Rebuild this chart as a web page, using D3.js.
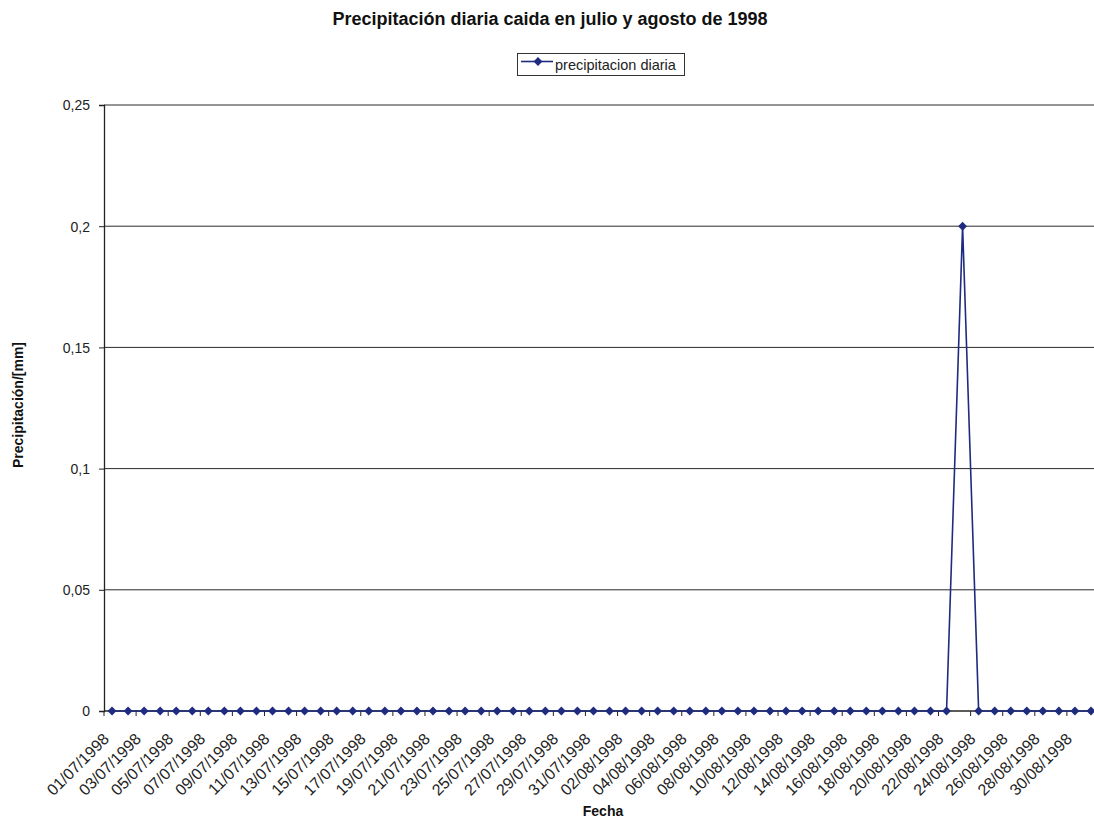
<!DOCTYPE html>
<html><head><meta charset="utf-8">
<script src="https://cdn.jsdelivr.net/npm/d3@7"></script>
<style>
html,body{margin:0;padding:0;background:#fff;}
svg{display:block;font-family:"Liberation Sans",Arial,sans-serif;}
</style></head>
<body><svg id="chart" width="1094" height="820"></svg>
<script>
// ---- data ----
const dates = [
"01/07/1998","02/07/1998","03/07/1998","04/07/1998","05/07/1998","06/07/1998","07/07/1998","08/07/1998","09/07/1998","10/07/1998",
"11/07/1998","12/07/1998","13/07/1998","14/07/1998","15/07/1998","16/07/1998","17/07/1998","18/07/1998","19/07/1998","20/07/1998",
"21/07/1998","22/07/1998","23/07/1998","24/07/1998","25/07/1998","26/07/1998","27/07/1998","28/07/1998","29/07/1998","30/07/1998",
"31/07/1998",
"01/08/1998","02/08/1998","03/08/1998","04/08/1998","05/08/1998","06/08/1998","07/08/1998","08/08/1998","09/08/1998","10/08/1998",
"11/08/1998","12/08/1998","13/08/1998","14/08/1998","15/08/1998","16/08/1998","17/08/1998","18/08/1998","19/08/1998","20/08/1998",
"21/08/1998","22/08/1998","23/08/1998","24/08/1998","25/08/1998","26/08/1998","27/08/1998","28/08/1998","29/08/1998","30/08/1998",
"31/08/1998"];
const precip = [
0,0,0,0,0,0,0,0,0,0,
0,0,0,0,0,0,0,0,0,0,
0,0,0,0,0,0,0,0,0,0,
0,
0,0,0,0,0,0,0,0,0,0,
0,0,0,0,0,0,0,0,0,0,
0,0,0.2,0,0,0,0,0,0,0,
0];
const yTicks = [0,0.05,0.1,0.15,0.2,0.25];
const title = "Precipitación diaria caida en julio y agosto de 1998";
const seriesName = "precipitacion diaria";
const xTitle = "Fecha";
const yTitle = "Precipitación/[mm]";

// ---- layout ----
const svg = d3.select("#chart");
const mLeft = 104, mRight = 1099, mTop = 105, mBottom = 711;
const navy = "#1f2b7e";

const x = d3.scaleBand().domain(dates).range([mLeft, mRight]).paddingInner(0).paddingOuter(0);
const y = d3.scaleLinear().domain([0, 0.25]).range([mBottom, mTop]);
const fmt = v => String(v).replace(".", ",");

// gridlines
svg.append("g").selectAll("line").data(yTicks).join("line")
  .attr("x1", mLeft).attr("x2", mRight)
  .attr("y1", d => y(d)).attr("y2", d => y(d))
  .attr("stroke", "#2a2a2a").attr("stroke-width", 1);

// y axis
const yAxis = d3.axisLeft(y).tickValues(yTicks).tickSize(5).tickFormat(fmt);
const gy = svg.append("g").attr("transform", `translate(${mLeft},0)`).call(yAxis);
gy.select(".domain").attr("stroke", "#222").attr("stroke-width", 1.3);
gy.selectAll(".tick line").attr("stroke", "#222");
gy.selectAll(".tick text").attr("font-size", 14).attr("fill", "#222")
  .attr("font-family", "Liberation Sans, Arial, sans-serif").attr("x", -14).attr("dy", "0.35em");

// x axis: ticks between categories every 2
const gx = svg.append("g").attr("transform", `translate(0,${mBottom})`);
gx.append("line").attr("x1", mLeft).attr("x2", mRight).attr("stroke", "#222");
const tickIdx = d3.range(0, dates.length + 1, 2);
gx.selectAll("line.t").data(tickIdx).join("line").attr("class", "t")
  .attr("x1", i => i < dates.length ? x(dates[i]) : mRight)
  .attr("x2", i => i < dates.length ? x(dates[i]) : mRight)
  .attr("y1", 0).attr("y2", 5).attr("stroke", "#222");
gx.selectAll("text").data(dates.filter((d, i) => i % 2 === 0)).join("text")
  .attr("transform", d => `translate(${x(d) + x.bandwidth() / 2 - 2},${29}) rotate(-45)`)
  .attr("text-anchor", "end")
  .attr("font-size", 16).attr("fill", "#222")
  .text(d => d);

// line
const cx = d => x(d) + x.bandwidth() / 2;
const line = d3.line().x((d, i) => cx(dates[i])).y(d => y(d));
svg.append("path").datum(precip).attr("d", line)
  .attr("fill", "none").attr("stroke", navy).attr("stroke-width", 1.6);

// markers
svg.append("g").selectAll("path").data(precip).join("path")
  .attr("d", d3.symbol().type(d3.symbolDiamond2).size(50))
  .attr("transform", (d, i) => `translate(${cx(dates[i])},${y(d)})`)
  .attr("fill", navy);

// title
svg.append("text").attr("x", 550).attr("y", 25).attr("text-anchor", "middle")
  .attr("font-size", 18).attr("font-weight", "bold").attr("fill", "#111").text(title);

// legend
const lg = svg.append("g");
lg.append("rect").attr("x", 517.5).attr("y", 53.5).attr("width", 167).attr("height", 22)
  .attr("fill", "#fff").attr("stroke", "#333");
lg.append("line").attr("x1", 521).attr("x2", 553).attr("y1", 61.5).attr("y2", 61.5)
  .attr("stroke", navy).attr("stroke-width", 1.6);
lg.append("path").attr("d", d3.symbol().type(d3.symbolDiamond2).size(50))
  .attr("transform", "translate(538,61.5)").attr("fill", navy);
lg.append("text").attr("x", 555).attr("y", 70).attr("font-size", 14.5).attr("fill", "#222").text(seriesName);

// axis titles
svg.append("text").attr("x", 603).attr("y", 816).attr("text-anchor", "middle")
  .attr("font-size", 14).attr("font-weight", "bold").attr("fill", "#111").text(xTitle);
svg.append("text").attr("transform", "translate(23,405) rotate(-90)").attr("text-anchor", "middle")
  .attr("font-size", 14).attr("font-weight", "bold").attr("fill", "#111").text(yTitle);
</script>
</body></html>
